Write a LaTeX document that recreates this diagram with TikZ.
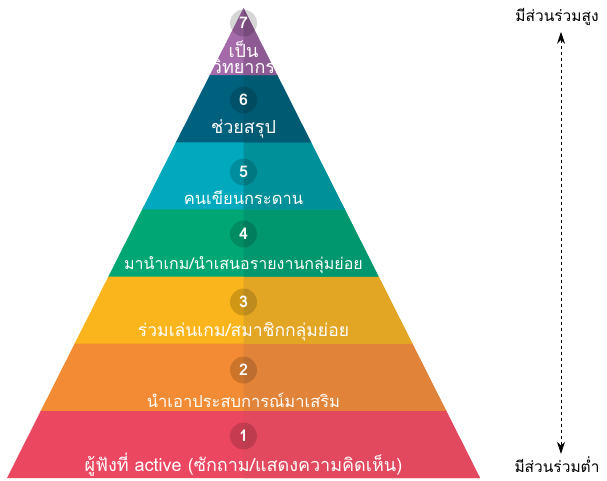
\documentclass[tikz,border=0pt]{standalone}
\usepackage{fontspec}
\setmainfont{Loma}[Script=Thai]
\usetikzlibrary{arrows.meta}
\definecolor{left1}{HTML}{EC4760}
\definecolor{right1}{HTML}{E2495E}
\definecolor{left2}{HTML}{F28B33}
\definecolor{right2}{HTML}{E2833A}
\definecolor{left3}{HTML}{F9B51B}
\definecolor{right3}{HTML}{E2A624}
\definecolor{left4}{HTML}{00A775}
\definecolor{right4}{HTML}{00976E}
\definecolor{left5}{HTML}{00A9BD}
\definecolor{right5}{HTML}{00909A}
\definecolor{left6}{HTML}{00617E}
\definecolor{right6}{HTML}{005A72}
\definecolor{left7}{HTML}{A46AAA}
\definecolor{right7}{HTML}{8D5A93}

\begin{document}
\begin{tikzpicture}[x=1pt,y=-1pt,
	numc/.style={circle,fill=black,fill opacity=.16,text opacity=1,text=white,minimum size=27pt,inner sep=0pt,font=\bfseries\fontsize{16}{16}\selectfont},
	lbl/.style={text=white,font=\fontsize{#1}{16}\selectfont,inner sep=0pt,align=center},
	lbl/.default=18,
	side/.style={text=black,font=\fontsize{15.5}{17}\selectfont,inner sep=1pt}]
	\useasboundingbox (0,0) rectangle (607,480);
	% layers of the pyramid
	\foreach \i in {1,...,7}{
		\pgfmathsetmacro\yb{478-67.14*(\i-1)}
		\pgfmathsetmacro\yt{478-67.14*\i}
		\pgfmathsetmacro\wb{(\yb-8)*0.5032}
		\pgfmathsetmacro\ytt{\i<7 ? \yt-0.8 : \yt}
		\pgfmathsetmacro\wtt{max(0,(\ytt-8)*0.5032)}
		\fill[left\i] (243.5-\wb,\yb) -- (243.5+\wb,\yb) -- (243.5+\wtt,\ytt) -- (243.5-\wtt,\ytt) -- cycle;
		\fill[right\i] (243.5,\yb) -- (243.5+\wb,\yb) -- (243.5+\wtt,\ytt) -- (243.5,\ytt) -- cycle;
	}
	% numbers
	\foreach \i/\y in {1/436,2/370,3/302,4/234,5/172,6/100,7/23}
		\node[numc] (c\i) at (243.5,\y) {\i};
	% labels
	\node[lbl] (t1) at (243.5,465) {ผู้ฟังที่ active (ซักถาม/แสดงความคิดเห็น)};
	\node[lbl=16.5] (t2) at (243.5,400) {นำเอาประสบการณ์มาเสริม};
	\node[lbl=17.5] (t3) at (243.5,332) {ร่วมเล่นเกม/สมาชิกกลุ่มย่อย};
	\node[lbl=16] (t4) at (243.5,265) {มานำเกม/นำเสนอรายงานกลุ่มย่อย};
	\node[lbl=16.5] (t5) at (243.5,198) {คนเขียนกระดาน};
	\node[lbl] (t6) at (243.5,129) {ช่วยสรุป};
	\node[lbl] (t7) at (243.5,57) {เป็น\\วิทยากร};
	% side arrow
	\node[side] (hi) at (557,17) {มีส่วนร่วมสูง};
	\node[side] (lo) at (557,465) {มีส่วนร่วมต่ำ};
	\draw[thick,dashed,{Stealth[length=12pt,width=8pt]}-{Stealth[length=12pt,width=8pt]}] ([xshift=4pt,yshift=-5pt]hi.south) -- ([xshift=4pt,yshift=2pt]lo.north);
\end{tikzpicture}
\end{document}
